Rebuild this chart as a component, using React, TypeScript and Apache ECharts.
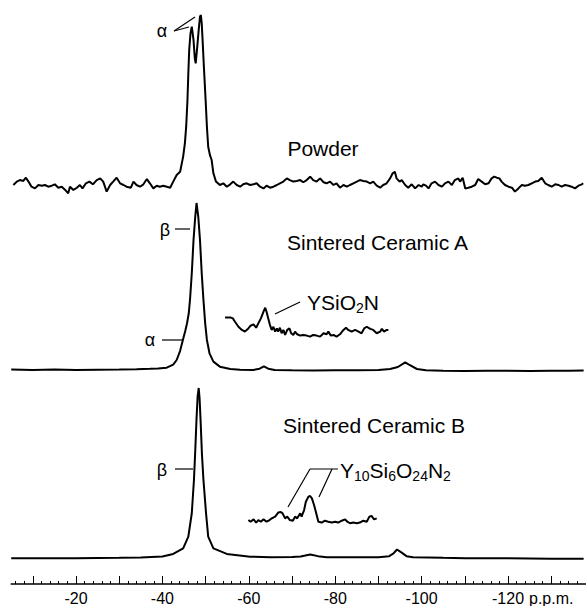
import React, { useEffect, useRef } from "react";
import * as echarts from "echarts";

// ---------- data (ppm, relative intensity; main peak = 100) ----------
const powderSpectrum: [number, number][] = [
  [-5.5, 0], [-6.3, 2.0], [-7.0, 2.9], [-7.8, 2.4], [-8.4, 4.3], [-9.0, 2.0], [-9.7, -1.0], [-10.5, -2.0],
  [-11.3, 0], [-12.1, -0.4], [-12.8, 0], [-13.6, -1.0], [-14.4, -0.4], [-15.1, 0.4], [-15.9, -1.6], [-16.7, -1.0],
  [-17.5, -2.9], [-18.2, -4.9], [-18.6, -1.0], [-19.4, -2.9], [-20.2, -1.6], [-20.9, 0], [-21.5, -2.0], [-22.3, 1.0],
  [-23.1, 2.0], [-23.9, 0.4], [-24.8, 2.9], [-25.6, 3.9], [-26.3, 2.0], [-27.1, -3.9], [-27.9, 0], [-28.6, 2.0],
  [-29.4, 4.3], [-30.2, 1.0], [-31.0, 0], [-31.7, -1.0], [-32.7, -1.6], [-33.3, 2.0], [-34.0, 0], [-34.8, -1.0],
  [-35.6, 0.4], [-36.4, 3.5], [-37.1, 1.0], [-37.9, -2.0], [-38.7, -0.4], [-39.4, -1.0], [-40.2, -0.4], [-41.0, -1.0],
  [-41.8, -1.6], [-42.5, 2.0], [-43.3, 5.9], [-44.1, 7.8], [-44.8, 16.7], [-45.2, 24.5], [-45.5, 34.3], [-45.8, 50],
  [-46.0, 65.7], [-46.2, 79.4], [-46.5, 89.2], [-46.8, 93.1], [-47.2, 85.3], [-47.5, 74.5], [-47.7, 71.6], [-48.0, 79.4],
  [-48.4, 91.2], [-48.7, 99], [-48.9, 100], [-49.1, 95.1], [-49.3, 85.3], [-49.6, 69.6], [-50.0, 50], [-50.3, 34.3],
  [-50.6, 22.5], [-51.0, 17.6], [-51.4, 14.7], [-51.8, 6.9], [-52.4, 2.0], [-53.3, 0], [-54.1, 1.0], [-54.9, -1.0],
  [-55.7, 0.4], [-56.4, 2.0], [-57.2, 0], [-58.0, -1.0], [-58.7, 0.4], [-59.5, 1.0], [-60.3, 0], [-61.1, 0.4],
  [-61.8, 1.0], [-62.6, -1.0], [-63.4, -2.0], [-64.1, -0.4], [-64.9, -1.6], [-65.7, -1.0], [-66.5, 0], [-67.2, 1.0],
  [-68.0, 2.0], [-68.8, 3.9], [-69.5, 2.9], [-70.3, 2.0], [-71.1, 2.4], [-71.9, 2.9], [-72.6, 1.6], [-73.4, 2.9],
  [-74.2, 4.9], [-74.9, 2.9], [-75.7, 2.0], [-76.5, 3.9], [-77.3, 1.6], [-78.0, 1.0], [-78.8, 2.0], [-79.6, 0],
  [-80.3, 1.0], [-81.1, -1.6], [-81.9, 0], [-82.7, -1.0], [-83.4, 0], [-84.2, 1.0], [-85.0, 2.0], [-85.7, 2.9],
  [-86.5, 2.4], [-87.3, 2.0], [-88.1, 1.0], [-88.8, 2.0], [-89.6, -0.4], [-90.4, -1.6], [-91.1, 0], [-91.9, 1.0],
  [-92.7, 3.9], [-93.3, 6.9], [-93.8, 7.8], [-94.2, 3.9], [-94.9, 2.0], [-95.4, 2.9], [-96.2, 0], [-96.9, -1.6],
  [-97.7, 0.4], [-98.5, -2.0], [-99.3, 0], [-100.0, -1.0], [-100.4, 0.4], [-101.0, -0.4], [-101.6, -2.0], [-102.3, 1.0],
  [-103.1, 2.0], [-103.9, 0], [-104.7, -1.0], [-105.4, 1.0], [-106.2, 2.0], [-107.0, 0], [-107.7, 2.9], [-108.5, 3.9],
  [-108.9, 2.0], [-109.5, 4.3], [-110.1, -2.0], [-110.8, -1.6], [-111.6, -1.0], [-112.4, 0], [-113.1, 3.5], [-113.9, 2.0],
  [-114.7, 0.4], [-115.5, 1.0], [-116.2, 3.9], [-116.8, 4.9], [-117.4, 4.3], [-118.0, 3.9], [-118.5, 2.0], [-119.3, 0],
  [-120.1, -1.0], [-120.9, -1.6], [-121.6, -3.9], [-122.4, -2.0], [-123.2, 0], [-123.9, -0.4], [-124.7, 0], [-125.5, 1.0],
  [-126.3, 2.0], [-127.0, 2.4], [-127.8, 4.3], [-128.6, 1.0], [-129.3, 0], [-130.1, -1.0], [-130.9, 0.4], [-131.7, 0],
  [-132.4, -1.0], [-133.2, 0], [-134.0, -0.4], [-134.7, -1.0], [-135.5, -2.0], [-136.3, -0.4], [-137.1, 0.4], [-137.4, 1.0],
];

const ceramicASpectrum: [number, number][] = [
  [-5.0, 0.3], [-10, 0], [-15, 0.3], [-20, 0], [-25, 0.2], [-30, 0.3], [-34, 0.5], [-37.1, 0.7], [-39, 0.9],
  [-41.0, 1.4], [-42.5, 3.2], [-43.3, 6], [-44.1, 11.5], [-44.8, 18.5], [-45.3, 23.5], [-45.7, 28], [-46.1, 34],
  [-46.4, 42.5], [-46.8, 57.9], [-47.2, 77.8], [-47.6, 91.8], [-47.9, 100], [-48.3, 91.8], [-48.7, 77.8], [-49.1, 57.9],
  [-49.5, 41.9], [-49.9, 27.9], [-50.3, 18], [-50.9, 10], [-51.8, 5], [-53.3, 2], [-55.7, 0.6], [-58, 0.2],
  [-61, 0], [-62.5, 0.8], [-63.5, 2.2], [-64.5, 0.8], [-66, 0], [-70, -0.2], [-75, -0.3], [-80, -0.2],
  [-85, -0.2], [-90, 0], [-92.7, 0.6], [-94.5, 1.8], [-96.2, 4.6], [-97.2, 3.0], [-98.9, 0.6], [-101, -0.2],
  [-105, -0.5], [-110, -0.6], [-115, -0.5], [-120, -0.4], [-125, -0.6], [-130, -0.5], [-134, -0.4], [-137.5, -0.3],
];

const ceramicAInset: [number, number][] = [
  [-54.5, 31.5], [-55.7, 31.5], [-56.3, 30.9], [-56.8, 28.9], [-57.6, 25.9], [-58.4, 24.0], [-59.1, 23.0], [-59.9, 24.9],
  [-60.4, 26.5], [-61.1, 27.3], [-61.7, 25.3], [-62.2, 27.9], [-62.8, 30.9], [-63.4, 34.9], [-63.8, 37.3], [-64.1, 34.9],
  [-64.5, 30.9], [-64.9, 26.9], [-65.3, 24.0], [-65.7, 25.9], [-66.1, 23.0], [-66.5, 24.9], [-66.8, 23.0], [-67.2, 25.3],
  [-67.6, 22.0], [-68.0, 24.0], [-68.4, 21.0], [-68.9, 24.0], [-69.4, 24.9], [-69.8, 22.0], [-70.3, 21.0], [-70.7, 23.0],
  [-71.2, 21.4], [-71.9, 20.6], [-72.6, 21.0], [-73.4, 20.6], [-74.2, 20.0], [-74.9, 21.0], [-75.7, 20.6], [-76.5, 20.0],
  [-77.3, 22.0], [-78.0, 21.4], [-78.4, 23.0], [-79.0, 20.6], [-79.6, 21.0], [-80.3, 20.0], [-81.1, 21.4], [-81.9, 24.0],
  [-82.5, 25.3], [-83.0, 24.0], [-83.8, 23.0], [-84.6, 24.0], [-85.4, 23.0], [-86.1, 22.0], [-86.7, 24.9], [-87.3, 25.9],
  [-88.1, 24.6], [-88.8, 24.0], [-89.6, 22.0], [-90.4, 23.0], [-90.8, 24.6], [-91.3, 23.0], [-91.9, 24.0], [-92.3, 24.0],
];

const ceramicBSpectrum: [number, number][] = [
  [-5, -0.5], [-10, -0.5], [-15, -0.4], [-20, -0.4], [-25, -0.3], [-30, -0.2], [-35, 0], [-40, 0.6],
  [-42.5, 2.1], [-44.8, 5.4], [-46.0, 12.3], [-46.8, 26.1], [-47.3, 45.7], [-47.6, 63], [-47.9, 82], [-48.15, 95],
  [-48.4, 100], [-48.6, 94], [-48.85, 80], [-49.15, 61], [-49.5, 45.7], [-50.1, 26.1], [-50.6, 12.3], [-51.8, 5.4],
  [-54.9, 2.1], [-60.3, 0.5], [-65, 0.2], [-70, 0.3], [-72, 0.6], [-74.2, 1.8], [-76, 0.8], [-78, 0.2],
  [-85, 0.1], [-90, 0.2], [-92.5, 0.8], [-93.5, 2.4], [-94.3, 4.7], [-95.3, 3.0], [-96.5, 0.8], [-98, 0.1],
  [-105, -0.2], [-110, -0.4], [-120, -0.5], [-130, -0.7], [-137.5, -0.7],
];

const ceramicBInset: [number, number][] = [
  [-59.9, 22.1], [-60.4, 21.1], [-61.1, 22.5], [-61.7, 20.6], [-62.2, 22.1], [-62.8, 21.1], [-63.4, 22.5], [-64.1, 21.1],
  [-64.8, 22.1], [-65.3, 23.1], [-66.1, 24.1], [-66.8, 26.5], [-67.4, 26.8], [-67.8, 26.1], [-68.4, 23.1], [-68.9, 24.1],
  [-69.5, 22.1], [-70.2, 21.7], [-70.7, 24.1], [-71.2, 23.1], [-71.9, 26.1], [-72.2, 24.1], [-72.8, 28.0], [-73.2, 32.9],
  [-73.8, 35.9], [-74.2, 36.3], [-74.6, 34.9], [-75.1, 31.0], [-75.6, 26.1], [-76.1, 21.1], [-76.9, 20.6], [-77.6, 21.7],
  [-78.4, 21.1], [-79.2, 20.6], [-80.0, 21.1], [-80.7, 20.6], [-81.5, 21.7], [-82.3, 22.5], [-82.8, 21.1], [-83.4, 20.2],
  [-84.2, 20.6], [-85.0, 20.2], [-85.7, 20.6], [-86.5, 21.7], [-87.3, 21.1], [-87.9, 24.1], [-88.4, 24.5], [-89.0, 22.5],
  [-89.6, 23.1],
];

const minorTickValues: number[] = [];
for (let v = -6; v >= -138; v -= 2) minorTickValues.push(v);
const majorTickValues = [-10, -20, -30, -40, -50, -60, -70, -80, -90, -100, -110, -120, -130];
const tickLabelValues = [-20, -40, -60, -80, -100, -120, -130];
const unitLabel = "p.p.m.";

const sampleLabels = ["Powder", "Sintered Ceramic A", "Sintered Ceramic B"];

// ---------- layout ----------
const FONT = '"Liberation Sans", Arial, Helvetica, sans-serif';
const X_MIN = -138;
const X_MAX = -5;
const GRID_LEFT = 11.2;
const GRID_WIDTH = 574.6;

function spectrumGrid(top: number, height: number) {
  return { left: GRID_LEFT, width: GRID_WIDTH, top, height, outerBoundsMode: "none", containLabel: false };
}
function hiddenX(gridIndex: number) {
  return { gridIndex, type: "value", min: X_MIN, max: X_MAX, inverse: true, show: false };
}
function hiddenY(gridIndex: number) {
  return { gridIndex, type: "value", min: -10, max: 100, show: false };
}
function lineSeries(data: [number, number][], idx: number) {
  return {
    type: "line",
    xAxisIndex: idx,
    yAxisIndex: idx,
    data,
    showSymbol: false,
    symbol: "none",
    smooth: false,
    clip: false,
    lineStyle: { color: "#000", width: 2 },
    emphasis: { disabled: true },
  };
}

function txt(text: string, x: number, y: number, size: number, align = "left", rich?: any) {
  return {
    type: "text",
    x,
    y,
    silent: true,
    style: {
      text,
      fill: "#000",
      fontSize: size,
      fontFamily: FONT,
      align,
      verticalAlign: "middle",
      lineHeight: 26,
      rich,
    },
  };
}
function seg(x1: number, y1: number, x2: number, y2: number, w = 1.2) {
  return { type: "line", silent: true, shape: { x1, y1, x2, y2 }, style: { stroke: "#000", lineWidth: w } };
}

const subRich = { s: { fontSize: 14, fontFamily: FONT, lineHeight: 26, verticalAlign: "bottom", fill: "#000" } };

const option: any = {
  animation: false,
  backgroundColor: "#fff",
  grid: [
    spectrumGrid(15, 187),
    spectrumGrid(203, 183.7),
    spectrumGrid(388, 186.45),
    { left: GRID_LEFT, width: GRID_WIDTH, top: 560, height: 24, outerBoundsMode: "none", containLabel: false },
  ],
  xAxis: [
    hiddenX(0),
    hiddenX(1),
    hiddenX(2),
    {
      gridIndex: 3, type: "value", min: X_MIN, max: X_MAX, inverse: true, position: "bottom",
      axisLine: { show: true, lineStyle: { color: "#000", width: 1.5 } },
      axisTick: { show: true, inside: true, length: 3, customValues: minorTickValues, lineStyle: { color: "#000", width: 1 } },
      axisLabel: { show: false },
      splitLine: { show: false },
    },
    {
      gridIndex: 3, type: "value", min: X_MIN, max: X_MAX, inverse: true, position: "bottom",
      axisLine: { show: false },
      axisTick: { show: true, inside: true, length: 8, customValues: majorTickValues, lineStyle: { color: "#000", width: 1 } },
      axisLabel: {
        show: true,
        customValues: tickLabelValues,
        formatter: (v: number) => (v === -130 ? unitLabel : String(v)),
        color: "#000",
        fontSize: 16,
        fontFamily: FONT,
        margin: 6,
        lineHeight: 16,
      },
      splitLine: { show: false },
    },
  ],
  yAxis: [hiddenY(0), hiddenY(1), hiddenY(2), { gridIndex: 3, type: "value", min: 0, max: 1, show: false }],
  series: [
    lineSeries(powderSpectrum, 0),
    lineSeries(ceramicASpectrum, 1),
    lineSeries(ceramicAInset, 1),
    lineSeries(ceramicBSpectrum, 2),
    lineSeries(ceramicBInset, 2),
  ],
  graphic: [
    // sample names
    txt(sampleLabels[0], 323, 148, 21, "center"),
    txt(sampleLabels[1], 287, 242, 21),
    txt(sampleLabels[2], 283, 425, 21),
    // powder alpha doublet
    txt("α", 162, 31, 18, "center"),
    seg(174, 31, 189, 27),
    seg(174, 31, 195, 17),
    // ceramic A
    txt("β", 165, 230, 18, "center"),
    seg(175, 229, 190, 229),
    txt("α", 150, 340, 18, "center"),
    seg(162, 340, 182, 340),
    txt("YSiO{s|2}N", 307, 302, 21, "left", subRich),
    seg(275, 314, 300, 302),
    // ceramic B
    txt("β", 162, 470, 18, "center"),
    seg(175, 469, 193, 469),
    txt("Y{s|10}Si{s|6}O{s|24}N{s|2}", 340, 470, 21, "left", subRich),
    seg(310, 469, 338, 469, 1),
    seg(310, 469, 288, 507),
    seg(332, 469, 319, 497),
  ],
};

export default function App() {
  const ref = useRef<HTMLDivElement>(null);
  useEffect(() => {
    if (!ref.current) return;
    const chart = echarts.init(ref.current, null, { renderer: "svg" });
    chart.setOption(option);
    return () => chart.dispose();
  }, []);
  return <div ref={ref} style={{ position: "absolute", left: 0, top: 0, width: 586, height: 606 }} />;
}
